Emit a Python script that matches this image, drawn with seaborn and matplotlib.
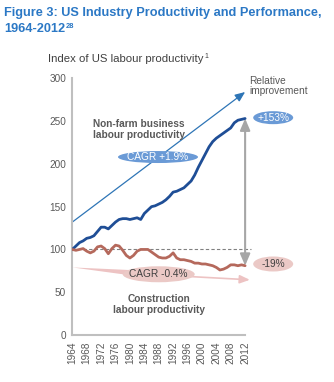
import matplotlib
matplotlib.use("Agg")
import matplotlib.pyplot as plt
from matplotlib.patches import Ellipse, Polygon
import seaborn as sns
import pandas as pd

# Index of US labour productivity (1964 = 100)
years = list(range(1964, 2013))
nonfarm = [100, 104, 108, 110, 113, 114, 116, 121, 126, 126,
           124, 128, 132, 135, 136, 136, 135, 136, 137, 135,
           142, 146, 150, 151, 153, 155, 158, 162, 167, 168,
           170, 172, 176, 180, 187, 196, 204, 212, 220, 226,
           230, 233, 236, 239, 242, 248, 251, 252, 253]
construction = [100, 99, 100, 101, 98, 96, 98, 103, 104, 101,
                95, 101, 105, 104, 99, 93, 90, 93, 98, 100,
                100, 100, 97, 94, 91, 90, 90, 92, 96, 90,
                88, 88, 87, 86, 84, 84, 83, 83, 82, 81,
                79, 76, 77, 79, 82, 82, 81, 82, 81]
year_ticks = list(range(1964, 2013, 4))
y_ticks = [0, 50, 100, 150, 200, 250, 300]

title_line1 = "Figure 3: US Industry Productivity and Performance,"
title_line2 = "1964-2012"
subtitle_text = "Index of US labour productivity"

BLUE_LINE = "#1F4E96"
RED_LINE = "#B5695C"
TITLE_BLUE = "#2B78C5"
ELL_BLUE = "#6A9AD6"
ELL_PINK = "#EBC9C6"
ARROW_PINK = "#EDC3C3"
GREY_TXT = "#595959"
AXIS_GREY = "#BFBFBF"

df = pd.DataFrame({"year": years * 2,
                   "index": nonfarm + construction,
                   "series": ["Non-farm"] * len(years) + ["Construction"] * len(years)})

sns.set_style("white")
plt.rcParams["font.family"] = ["Liberation Sans", "DejaVu Sans"]

fig = plt.figure(figsize=(3.34, 3.82), dpi=100)
ax = fig.add_axes([0.2165, 0.123, 0.74, 0.672])

sns.lineplot(data=df, x="year", y="index", hue="series",
             palette={"Non-farm": BLUE_LINE, "Construction": RED_LINE},
             linewidth=2.0, legend=False, ax=ax, zorder=4)

ax.set_xlim(1964, 1964 + 0.74 * 334 / 3.6)
ax.set_ylim(0, 300)
ax.set_xlabel("")
ax.set_ylabel("")
ax.set_xticks(year_ticks)
ax.set_xticklabels([str(y) for y in year_ticks], rotation=90)
ax.set_yticks(y_ticks)
ax.tick_params(axis="both", labelsize=7.2, colors=AXIS_GREY, labelcolor=GREY_TXT,
               length=3, width=1, direction="out", pad=1.5)
for side in ("top", "right"):
    ax.spines[side].set_visible(False)
for side in ("left", "bottom"):
    ax.spines[side].set_color(AXIS_GREY)
    ax.spines[side].set_linewidth(1.5)
ax.spines["bottom"].set_bounds(1964, 2012)

# reference line at 100
ax.plot([1964, 2013.5], [100, 100], ls=(0, (3, 2)), color="#808080", lw=0.8, zorder=3)

# trend arrows
ax.annotate("", xy=(2012, 284), xytext=(1964, 132),
            arrowprops=dict(arrowstyle="-|>,head_length=0.6,head_width=0.25",
                            color="#2E75B6", lw=0.9, shrinkA=0, shrinkB=0), zorder=2)
ax.add_patch(Polygon([(1964, 79), (1985, 75), (1985, 67)], closed=True,
                     facecolor=ARROW_PINK, edgecolor="none", zorder=2))
ax.annotate("", xy=(2013.3, 64.5), xytext=(1985, 71),
            arrowprops=dict(arrowstyle="-|>,head_length=0.6,head_width=0.25",
                            color=ARROW_PINK, lw=1.2, shrinkA=0, shrinkB=0), zorder=2)

# relative improvement double arrow
for end in (253, 81):
    ax.annotate("", xy=(2012, end), xytext=(2012, 100),
                arrowprops=dict(arrowstyle="-|>,head_length=0.7,head_width=0.3",
                                color="#A6A6A6", lw=1.5, shrinkA=0, shrinkB=0), zorder=5)

def bubble(x, y, w, h, fc, text, tc):
    ax.add_patch(Ellipse((x, y), w / 3.6, h / 0.856, facecolor=fc,
                         edgecolor="none", zorder=6, clip_on=False))
    ax.text(x, y, text, ha="center", va="center", fontsize=7.3, color=tc, zorder=7)

bubble(1987.8, 208, 80, 12, ELL_BLUE, "CAGR +1.9%", "white")
bubble(2019.8, 254, 40, 13, ELL_BLUE, "+153%", "white")
bubble(2019.8, 83, 40, 15, ELL_PINK, "-19%", "#404040")
bubble(1988.0, 71, 72, 16, ELL_PINK, "CAGR -0.4%", "#404040")

ax.text(1969.7, 240, "Non-farm business\nlabour productivity", ha="left", va="center",
        fontsize=7.3, fontweight="bold", color=GREY_TXT, linespacing=1.1)
ax.text(1988.2, 36, "Construction\nlabour productivity", ha="center", va="center",
        fontsize=7.3, fontweight="bold", color=GREY_TXT, linespacing=1.1)
ax.text(2013.2, 291, "Relative\nimprovement", ha="left", va="center",
        fontsize=7.3, color=GREY_TXT, linespacing=1.1)

# title (two lines) and subtitle, each with a superscript note
fig.text(4 / 334, 1 - 16 / 382, title_line1, ha="left", va="baseline",
         fontsize=9.2, fontweight="bold", color=TITLE_BLUE)
t2 = fig.text(4 / 334, 1 - 32 / 382, title_line2, ha="left", va="baseline",
              fontsize=9.2, fontweight="bold", color=TITLE_BLUE)
s = fig.text(48 / 334, 1 - 62 / 382, subtitle_text, ha="left", va="baseline",
             fontsize=8.2, color="#404040")
fig.canvas.draw()
r = fig.canvas.get_renderer()
inv = fig.transFigure.inverted()

bb2 = t2.get_window_extent(r)
x0, _ = inv.transform((bb2.x1, bb2.y1))
fig.text(x0 + 0.003, 1 - 23 / 382, "28", ha="left", va="top",
         fontsize=5.4, fontweight="bold", color=TITLE_BLUE)

bbs = s.get_window_extent(r)
x1, _ = inv.transform((bbs.x1, bbs.y1))
fig.text(x1 + 0.003, 1 - 53 / 382, "1", ha="left", va="top", fontsize=5, color="#404040")

fig.savefig("out.png", dpi=100)
